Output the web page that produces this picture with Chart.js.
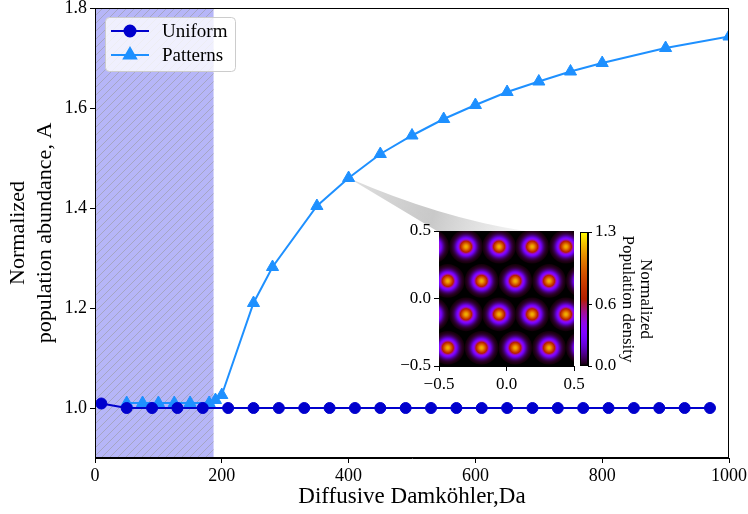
<!DOCTYPE html>
<html>
<head>
<meta charset="utf-8">
<script src="https://cdn.jsdelivr.net/npm/chart.js@4.4.0/dist/chart.umd.min.js"></script>
<style>
html, body { margin: 0; padding: 0; background: #fff; }
#wrap { position: relative; width: 748px; height: 514px; }
#wrap canvas { position: absolute; left: 0; top: 0; width: 748px; height: 514px; }
</style>
</head>
<body>
<div id="wrap">
<canvas id="mainChart" width="748" height="514"></canvas>
<canvas id="insetChart" width="748" height="514"></canvas>
<canvas id="barChart" width="748" height="514"></canvas>
</div>
<script>
const serif = "'Liberation Serif', 'DejaVu Serif', serif";

// main curves
const uniformX = [10, 50, 90, 130, 170, 210, 250, 290, 330, 370, 410, 450, 490, 530, 570, 610, 650, 690, 730, 770, 810, 850, 890, 930, 970];
const uniformY = [1.009, 1.0, 1.0, 1.0, 1.0, 1.0, 1.0, 1.0, 1.0, 1.0, 1.0, 1.0, 1.0, 1.0, 1.0, 1.0, 1.0, 1.0, 1.0, 1.0, 1.0, 1.0, 1.0, 1.0, 1.0];
const patternsX = [50, 75, 100, 125, 150, 180, 190, 200, 250, 280, 350, 400, 450, 500, 550, 600, 650, 700, 750, 800, 900, 1000];
const patternsY = [1.01, 1.01, 1.01, 1.01, 1.01, 1.01, 1.016, 1.026, 1.21, 1.282, 1.404, 1.46, 1.508, 1.545, 1.578, 1.606, 1.632, 1.653, 1.673, 1.69, 1.72, 1.743];
const xTicks = [0, 200, 400, 600, 800, 1000];
const yTicks = [1.0, 1.2, 1.4, 1.6, 1.8];
const shadeRange = [0, 187];
const zoomPoint = [400, 1.46];

// inset pattern (spot centres in inset units)
const insetTicks = [-0.5, 0.0, 0.5];
const spotX = [-0.55, -0.30, -0.055, 0.19, 0.44, -0.435, -0.185, 0.065, 0.315, 0.565,
               -0.55, -0.30, -0.055, 0.19, 0.44, -0.435, -0.185, 0.065, 0.315, 0.565];
const spotY = [0.384, 0.384, 0.384, 0.384, 0.384, 0.13, 0.13, 0.13, 0.13, 0.13,
               -0.117, -0.117, -0.117, -0.117, -0.117, -0.365, -0.365, -0.365, -0.365, -0.365];
const spotPeak = 1.15;
const spotWidth = 0.039;
const barTicks = [0.0, 0.6, 1.3];
const barMax = 1.3;

function gnuplot(t) {
    t = Math.max(0, Math.min(1, t));
    const r = Math.sqrt(t), g = t * t * t, b = Math.max(0, Math.sin(2 * Math.PI * t));
    return 'rgb(' + Math.round(r * 255) + ',' + Math.round(g * 255) + ',' + Math.round(b * 255) + ')';
}
const fmt1 = v => v.toFixed(1).replace('-', '\u2212');

// ---------- inset heatmap ----------
const insetPlugin = {
    id: 'insetImage',
    beforeDatasetsDraw(chart) {
        const { ctx, chartArea: a, scales } = chart;
        ctx.save();
        ctx.fillStyle = '#000';
        ctx.fillRect(a.left, a.top, a.right - a.left, a.bottom - a.top);
        ctx.beginPath();
        ctx.rect(a.left, a.top, a.right - a.left, a.bottom - a.top);
        ctx.clip();
        const s = scales.x.getPixelForValue(spotWidth) - scales.x.getPixelForValue(0);
        const R = s * 3.2;
        for (let i = 0; i < spotX.length; i++) {
            const px = scales.x.getPixelForValue(spotX[i]);
            const py = scales.y.getPixelForValue(spotY[i]);
            const grad = ctx.createRadialGradient(px, py, 0, px, py, R);
            for (let k = 0; k <= 24; k++) {
                const f = k / 24;
                const d = f * R / s;
                const v = spotPeak * Math.exp(-d * d / 2);
                grad.addColorStop(f, gnuplot(v / barMax));
            }
            ctx.fillStyle = grad;
            ctx.beginPath();
            ctx.arc(px, py, R, 0, Math.PI * 2);
            ctx.fill();
        }
        ctx.restore();
    }
};

function smallAxis(extra) {
    return Object.assign({
        type: 'linear', min: -0.5, max: 0.5,
        afterBuildTicks: s => { s.ticks = insetTicks.map(v => ({ value: v })); },
        ticks: { color: '#000', font: { family: serif, size: 17 }, padding: 3, callback: v => fmt1(v), maxRotation: 0, autoSkip: false },
        grid: { drawOnChartArea: false, drawTicks: true, tickLength: 5, color: '#000' },
        border: { display: true, color: '#000' }
    }, extra);
}

const insetChart = new Chart(document.getElementById('insetChart').getContext('2d'), {
    type: 'scatter',
    data: { datasets: [{ data: [] }] },
    options: {
        responsive: false, animation: false, events: [],
        layout: { padding: { left: 395, top: 231, right: 174, bottom: 120 } },
        plugins: { legend: { display: false }, tooltip: { enabled: false } },
        scales: {
            x: smallAxis({ afterFit: s => { s.height = 28; s.paddingLeft = 0; s.paddingRight = 0; } }),
            y: smallAxis({ afterFit: s => { s.width = 44; s.paddingTop = 0; s.paddingBottom = 0; } })
        }
    },
    plugins: [insetPlugin]
});

// ---------- colorbar ----------
const barPlugin = {
    id: 'colorbar',
    beforeDatasetsDraw(chart) {
        const { ctx, chartArea: a } = chart;
        const grad = ctx.createLinearGradient(0, a.bottom, 0, a.top);
        for (let k = 0; k <= 40; k++) grad.addColorStop(k / 40, gnuplot(k / 40));
        ctx.save();
        ctx.fillStyle = grad;
        ctx.fillRect(a.left, a.top, a.right - a.left, a.bottom - a.top);
        ctx.strokeStyle = '#000';
        ctx.lineWidth = 1;
        ctx.strokeRect(a.left + 0.5, a.top + 0.5, a.right - a.left - 1, a.bottom - a.top - 1);
        ctx.restore();
    }
};

const barChart = new Chart(document.getElementById('barChart').getContext('2d'), {
    type: 'scatter',
    data: { datasets: [{ data: [] }] },
    options: {
        responsive: false, animation: false, events: [],
        layout: { padding: { left: 580, top: 232, right: 90, bottom: 148 } },
        plugins: { legend: { display: false }, tooltip: { enabled: false } },
        scales: {
            x: { display: false, min: 0, max: 1 },
            y: {
                position: 'right', min: 0, max: barMax,
                afterBuildTicks: s => { s.ticks = barTicks.map(v => ({ value: v })); },
                afterFit: s => { s.width = 70; s.paddingTop = 0; s.paddingBottom = 0; },
                ticks: { color: '#000', font: { family: serif, size: 17 }, padding: 3, callback: v => fmt1(v) },
                grid: { drawOnChartArea: false, drawTicks: true, tickLength: 4, color: '#000' },
                border: { display: true, color: '#000' },
                title: { display: true, text: ['Normalized', 'Population density'], color: '#000', font: { family: serif, size: 17, lineHeight: 1.05 }, padding: { top: 4, bottom: 0 } }
            }
        }
    },
    plugins: [barPlugin]
});

// ---------- main chart ----------
const decorPlugin = {
    id: 'decor',
    beforeDatasetsDraw(chart) {
        const { ctx, chartArea: a, scales } = chart;
        const x0 = scales.x.getPixelForValue(shadeRange[0]);
        const x1 = scales.x.getPixelForValue(shadeRange[1]);
        ctx.save();
        ctx.fillStyle = '#b6b6f8';
        ctx.fillRect(x0, a.top, x1 - x0, a.bottom - a.top);
        ctx.beginPath();
        ctx.rect(x0, a.top, x1 - x0, a.bottom - a.top);
        ctx.clip();
        ctx.strokeStyle = 'rgba(150,150,150,0.6)';
        ctx.lineWidth = 0.9;
        ctx.beginPath();
        for (let u = x0 - (a.bottom - a.top); u < x1 + 10; u += 8) {
            ctx.moveTo(u, a.bottom);
            ctx.lineTo(u + (a.bottom - a.top), a.top);
        }
        ctx.stroke();
        ctx.restore();

        // zoom connector to the inset
        const ia = insetChart.chartArea;
        const sx = scales.x.getPixelForValue(zoomPoint[0]);
        const sy = scales.y.getPixelForValue(zoomPoint[1]);
        const lx = ia.left - 2, rx = ia.left + 86, ey = ia.top;
        const g = ctx.createLinearGradient(sx, sy, rx, ey);
        g.addColorStop(0, 'rgba(180,180,180,0.4)');
        g.addColorStop(0.5, 'rgba(195,195,195,0.9)');
        g.addColorStop(1, 'rgba(238,238,238,0.6)');
        ctx.save();
        ctx.fillStyle = g;
        ctx.beginPath();
        ctx.moveTo(sx, sy);
        ctx.lineTo(lx, ey);
        ctx.lineTo(rx, ey);
        ctx.quadraticCurveTo(sx + 92, sy + 40, sx, sy);
        ctx.closePath();
        ctx.fill();
        ctx.restore();
    },
    afterDatasetsDraw(chart) {
        const { ctx, chartArea: a } = chart;
        ctx.save();
        ctx.strokeStyle = '#000';
        ctx.lineWidth = 1;
        ctx.strokeRect(a.left + 0.5, a.top + 0.5, a.right - a.left - 1, a.bottom - a.top - 1);

        // legend
        const bx = a.left + 10, by = a.top + 9, bw = 130, bh = 54;
        ctx.fillStyle = 'rgba(255,255,255,0.8)';
        ctx.strokeStyle = '#cccccc';
        ctx.beginPath();
        ctx.roundRect(bx + 0.5, by + 0.5, bw, bh, 4);
        ctx.fill();
        ctx.stroke();
        chart.data.datasets.forEach((ds, i) => {
            const cy = by + 14 + i * 24;
            ctx.strokeStyle = ds.borderColor;
            ctx.lineWidth = 2;
            ctx.beginPath();
            ctx.moveTo(bx + 6, cy);
            ctx.lineTo(bx + 44, cy);
            ctx.stroke();
            ctx.fillStyle = ds.borderColor;
            Chart.helpers.drawPoint(ctx, { pointStyle: ds.pointStyle, radius: ds.pointRadius, borderWidth: 1, rotation: 0 }, bx + 25, cy);
            ctx.fillStyle = '#000';
            ctx.font = '19px ' + serif;
            ctx.textBaseline = 'middle';
            ctx.fillText(ds.label, bx + 57, cy + 1);
        });
        ctx.restore();
    }
};

const mainChart = new Chart(document.getElementById('mainChart').getContext('2d'), {
    type: 'line',
    data: {
        datasets: [{
            label: 'Uniform',
            data: uniformX.map((x, i) => ({ x: x, y: uniformY[i] })),
            borderColor: '#0000cd', backgroundColor: '#0000cd',
            borderWidth: 2, pointStyle: 'circle', pointRadius: 5.5, pointBorderWidth: 1,
            tension: 0
        }, {
            label: 'Patterns',
            data: patternsX.map((x, i) => ({ x: x, y: patternsY[i] })),
            borderColor: '#1e90ff', backgroundColor: '#1e90ff',
            borderWidth: 2, pointStyle: 'triangle', pointRadius: 7, pointBorderWidth: 1,
            tension: 0
        }]
    },
    options: {
        responsive: false, animation: false, events: [],
        layout: { padding: { left: 0, top: 6, right: 19, bottom: 0 } },
        plugins: { legend: { display: false }, tooltip: { enabled: false } },
        scales: {
            x: {
                type: 'linear', min: 0, max: 1000,
                afterBuildTicks: s => { s.ticks = xTicks.map(v => ({ value: v })); },
                afterFit: s => { s.height = 56; s.paddingLeft = 0; s.paddingRight = 0; },
                ticks: { color: '#000', font: { family: serif, size: 18 }, padding: 2, maxRotation: 0, autoSkip: false, callback: v => String(v) },
                grid: { drawOnChartArea: false, drawTicks: true, tickLength: 5, color: '#000' },
                border: { display: true, color: '#000' },
                title: { display: true, text: 'Diffusive Damköhler,Da', color: '#000', font: { family: serif, size: 23 }, padding: { top: 0, bottom: 3 } }
            },
            y: {
                type: 'linear', min: 0.9, max: 1.8,
                afterBuildTicks: s => { s.ticks = yTicks.map(v => ({ value: v })); },
                afterFit: s => { s.width = 95; s.paddingTop = 0; s.paddingBottom = 0; },
                ticks: { color: '#000', font: { family: serif, size: 18 }, padding: 3, callback: v => v.toFixed(1) },
                grid: { drawOnChartArea: false, drawTicks: true, tickLength: 5, color: '#000' },
                border: { display: true, color: '#000' },
                title: { display: true, text: ['Normalized', 'population abundance, A'], color: '#000', font: { family: serif, size: 22, lineHeight: 1.25 }, padding: { top: 4, bottom: 0 } }
            }
        }
    },
    plugins: [decorPlugin]
});
</script>
</body>
</html>
